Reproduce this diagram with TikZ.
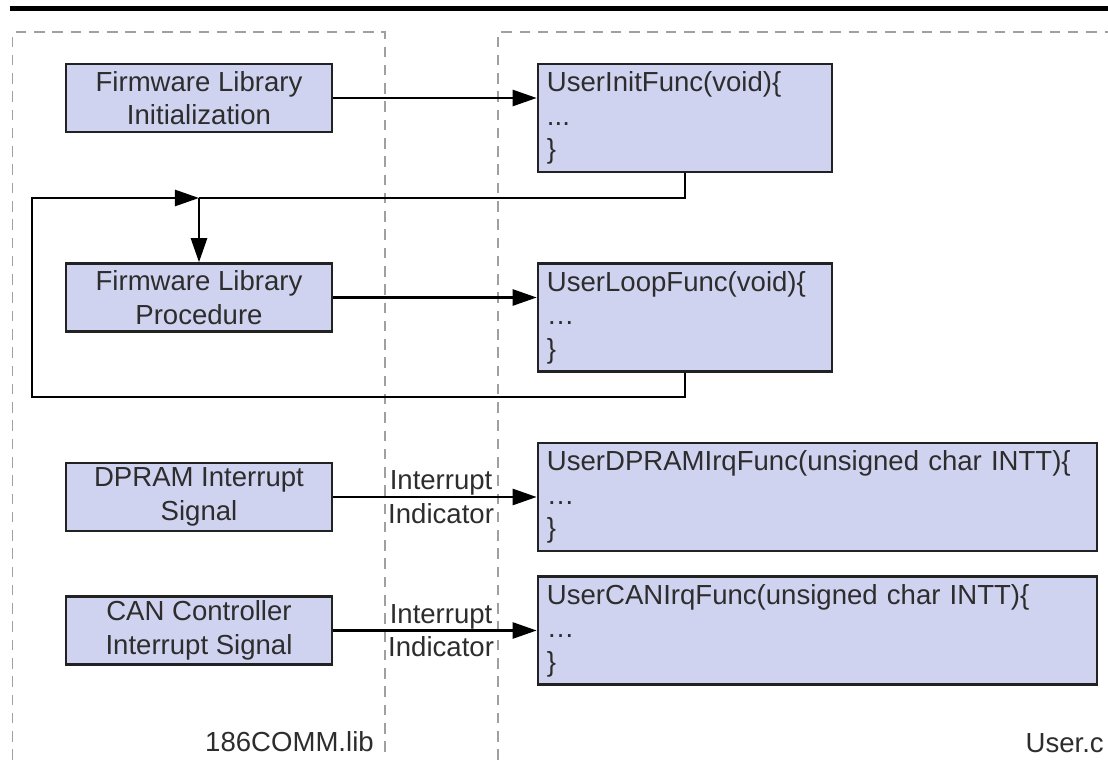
\documentclass[tikz,border=0pt]{standalone}
\usepackage{fontspec}
\setmainfont{Liberation Sans}
\usetikzlibrary{arrows.meta}
\definecolor{boxfill}{RGB}{208,211,240}
\definecolor{boxline}{RGB}{34,34,34}
\definecolor{txt}{RGB}{45,45,45}
\definecolor{dashgray}{RGB}{160,160,160}
\begin{document}
\begin{tikzpicture}[x=0.025cm, y=-0.025cm,
        every node/.style={font=\fontsize{19.6pt}{23.8pt}\selectfont, text=txt},
        libbox/.style={draw=boxline, fill=boxfill, line width=1.8pt, align=center,
                       minimum width=6.65cm, minimum height=1.7cm, inner sep=0pt},
        userbox/.style={draw=boxline, fill=boxfill, line width=1.8pt, align=left,
                        text width=#1, inner xsep=0.225cm, minimum height=2.7cm},
        userbox/.default=6.9cm,
        region/.style={draw=dashgray, line width=1.1pt, dash pattern=on 7.5pt off 5.5pt},
        conn/.style={line width=1.8pt, draw=black},
        arr/.style={conn, -{Triangle[length=0.6cm, width=0.4cm]}},
        lbl/.style={align=center, inner sep=0pt, pos=0.53}
      ]
      \useasboundingbox (0,0) rectangle (1108,760);
      \fill (10,6) rectangle (1108,11.5);

      \draw[region] (12.5,760) -- (12.5,32) -- (385,32) -- (385,760);
      \draw[region] (498,760) -- (498,32) -- (1108,32);

      \node[libbox] (fwinit) at (199,98) {Firmware Library\\Initialization};
      \node[libbox] (fwproc) at (199,297.5) {Firmware Library\\Procedure};
      \node[libbox] (dpram) at (199,497) {DPRAM Interrupt\\Signal};
      \node[libbox] (canint) at (199,630.5) {CAN Controller\\Interrupt Signal};

      \node[userbox] (uinit) at (685,118) {UserInitFunc(void)\{\\...\\\}};
      \node[userbox] (uloop) at (685,317.5) {UserLoopFunc(void)\{\\…\\\}};
      \node[userbox=13.525cm] (udpram) at (817.5,497) {UserDPRAMIrqFunc(unsigned char INTT)\{\\…\\\}};
      \node[userbox=13.525cm] (ucan) at (817.5,630.5) {UserCANIrqFunc(unsigned char INTT)\{\\…\\\}};

      \node[anchor=east, inner sep=0pt] (libname) at (374,742) {186COMM.lib};
      \node[anchor=east, inner sep=0pt] (username) at (1104,743) {User.c};

      \coordinate (join) at (199,198);
      \coordinate (top) at (32,198);
      \coordinate (back) at (32,397);

      \draw[arr] (fwinit.east) -- (fwinit.east -| uinit.west);
      \draw[conn] (uinit.south) |- (join);
      \draw[arr] (uloop.south) |- (back) -- (top) -- (join);
      \draw[arr] (join) -- (fwproc.north);
      \draw[arr] (fwproc.east) -- (fwproc.east -| uloop.west);
      \draw[arr] (dpram.east) -- node[lbl] {Interrupt\\Indicator} (dpram.east -| udpram.west);
      \draw[arr] (canint.east) -- node[lbl] {Interrupt\\Indicator} (canint.east -| ucan.west);
    \end{tikzpicture}
\end{document}
